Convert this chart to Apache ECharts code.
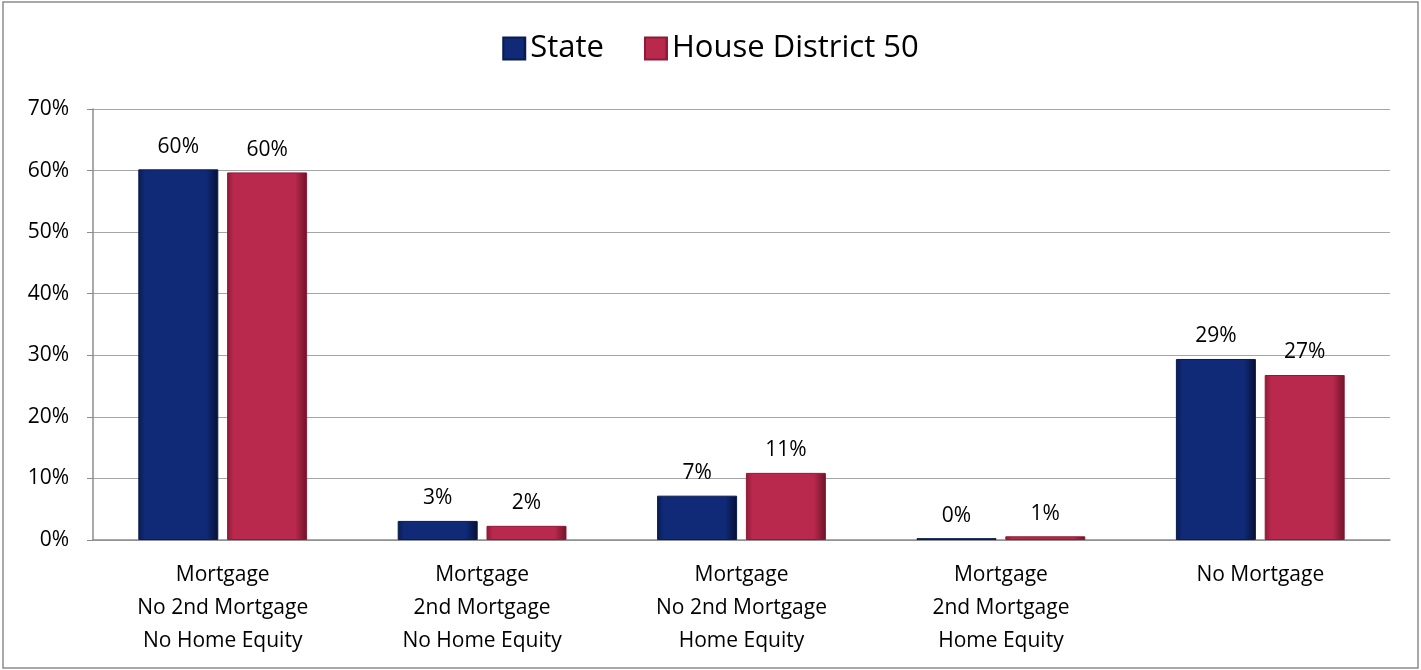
<!DOCTYPE html>
<html>
<head>
<meta charset="utf-8">
<script src="https://cdn.jsdelivr.net/npm/echarts@6/dist/echarts.min.js"></script>
<style>
    html, body { margin: 0; padding: 0; background: #fff; }
    #chart { width: 1421px; height: 670px; }
</style>
</head>
<body>
<div id="chart"></div>
<script>
    var categories = [
        'Mortgage\nNo 2nd Mortgage\nNo Home Equity',
        'Mortgage\n2nd Mortgage\nNo Home Equity',
        'Mortgage\nNo 2nd Mortgage\nHome Equity',
        'Mortgage\n2nd Mortgage\nHome Equity',
        'No Mortgage'
    ];
    var stateValues = [60.2, 3.1, 7.2, 0.3, 29.4];
    var districtValues = [59.7, 2.3, 10.9, 0.6, 26.8];
    var seriesNames = ['State', 'House District 50'];

    // horizontal gradient to fake the bevelled bars of the original
    function bevel(dark, mid, light) {
        return new echarts.graphic.LinearGradient(0, 0, 1, 0, [
            { offset: 0, color: dark },
            { offset: 0.08, color: mid },
            { offset: 0.85, color: mid },
            { offset: 1, color: light }
        ]);
    }

    var labelFmt = function (p) { return Math.round(p.value) + '%'; };

    var myChart = echarts.init(document.getElementById('chart'));
    myChart.setOption({
        animation: false,
        textStyle: { fontFamily: '"Open Sans", "Liberation Sans", sans-serif' },
        graphic: [{
            type: 'rect',
            shape: { x: 3, y: 2, width: 1415, height: 666 },
            style: { fill: 'none', stroke: '#8c8c8c', lineWidth: 1.5 },
            silent: true
        }],
        legend: {
            top: 28,
            left: 'center',
            itemWidth: 22,
            itemHeight: 22,
            itemGap: 40,
            icon: 'rect',
            textStyle: { fontSize: 31, color: '#000' },
            data: seriesNames
        },
        grid: {
            left: 93,
            right: 31,
            top: 109,
            bottom: 130
        },
        xAxis: {
            type: 'category',
            data: categories,
            axisLine: { lineStyle: { color: '#8c8c8c', width: 1.5 } },
            axisTick: { show: false },
            axisLabel: {
                interval: 0,
                fontSize: 21,
                color: '#000',
                lineHeight: 33,
                margin: 19,
                verticalAlign: 'top'
            }
        },
        yAxis: {
            type: 'value',
            min: 0,
            max: 70,
            interval: 10,
            axisLine: { show: true, lineStyle: { color: '#8c8c8c', width: 1.5 } },
            axisTick: { show: true, length: 6, lineStyle: { color: '#8c8c8c' } },
            splitLine: { lineStyle: { color: '#a6a6a6', width: 1.2 } },
            axisLabel: {
                fontSize: 21,
                color: '#000',
                margin: 24,
                formatter: '{value}%'
            }
        },
        series: [
            {
                name: seriesNames[0],
                type: 'bar',
                data: stateValues,
                barWidth: 80,
                barGap: '11%',
                itemStyle: {
                    color: bevel('#0a1b4f', '#102a78', '#061035'),
                    borderColor: '#0a1b4f',
                    borderWidth: 1
                },
                label: {
                    show: true,
                    position: 'top',
                    distance: 12,
                    fontSize: 21,
                    color: '#000',
                    formatter: labelFmt
                }
            },
            {
                name: seriesNames[1],
                type: 'bar',
                data: districtValues,
                barWidth: 80,
                itemStyle: {
                    color: bevel('#8e1a36', '#b8294d', '#6e1228'),
                    borderColor: '#8e1a36',
                    borderWidth: 1
                },
                label: {
                    show: true,
                    position: 'top',
                    distance: 12,
                    fontSize: 21,
                    color: '#000',
                    formatter: labelFmt
                }
            }
        ]
    });
</script>
</body>
</html>
